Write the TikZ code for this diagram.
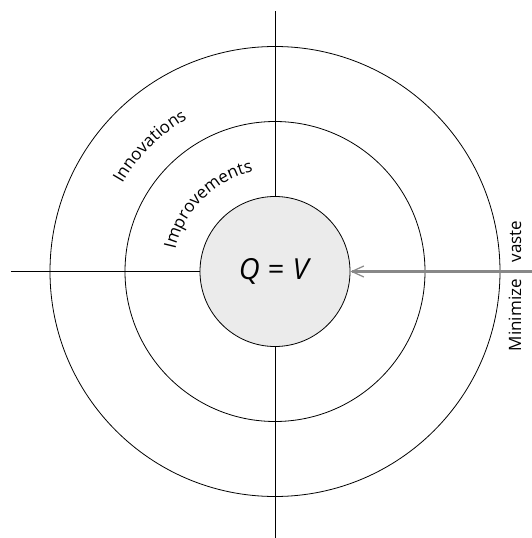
\documentclass[tikz,border=0pt]{standalone}
\usepackage{fontspec}
\setsansfont{Open Sans}
\usetikzlibrary{arrows.meta, decorations.text}
\definecolor{corefill}{RGB}{235,235,235}
\definecolor{arrowgray}{RGB}{136,136,136}
\newcommand{\ringfont}{\sffamily\fontsize{17}{20}\selectfont}

\begin{document}
\begin{tikzpicture}[x=1pt, y=1pt, font=\sffamily, line width=0.8pt,
  ring/.style={draw, circle, inner sep=0pt}]
\useasboundingbox (-275,-266.5) rectangle (256,271.5);

% ---- outer rings ----
\node[ring, minimum size=450pt] (innov) at (0,0) {};
\node[ring, minimum size=300pt] (improve) at (0,0) {};

% ---- core ----
\node[ring, minimum size=150pt, fill=corefill, font=\sffamily\fontsize{29}{35}\selectfont]
  (core) at (0,0) {\textit{Q}\hspace{.28em}=\hspace{.28em}\textit{V}};

% ---- axes ----
\coordinate (axtop) at (0,260);
\coordinate (axleft) at (-264,0);
\coordinate (axbottom) at (0,-270);
\coordinate (arrstart) at (260,0);
\draw (axtop) -- (core.north);
\draw (axleft) -- (core.west);
\draw (core.south) -- (axbottom);

% ---- arrow in from the right ----
\draw[arrowgray, line width=3pt, -{Straight Barb[length=12pt, width=11pt, line width=1.2pt]}]
  (arrstart) -- (core.east);
\node[rotate=90, font=\ringfont, inner sep=0pt] (waste) at (240,-14.3) {Minimize\hspace{17pt}vaste};

% ---- curved ring labels ----
\path[decorate, decoration={text along path, text align=center,
  text={|\ringfont|Innovations}}] (170:176) arc[start angle=170, end angle=100, radius=176];
\path[decorate, decoration={text along path, text align=center,
  text={|\ringfont|Improvements}}] (175:102) arc[start angle=175, end angle=95, radius=102];
\end{tikzpicture}
\end{document}
